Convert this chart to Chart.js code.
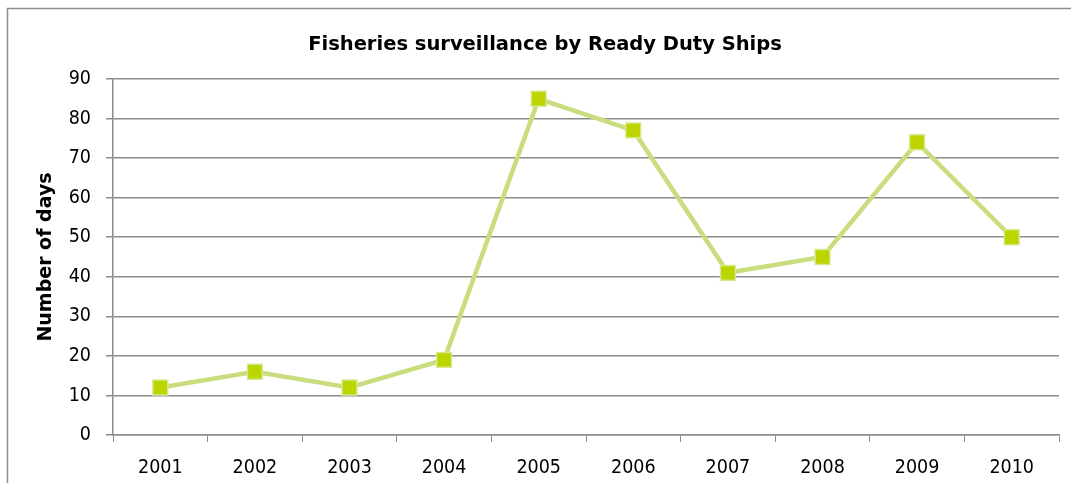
<!DOCTYPE html>
<html>
<head>
<meta charset="utf-8">
<script src="https://cdn.jsdelivr.net/npm/chart.js@4.4.0/dist/chart.umd.min.js"></script>
<style>
html,body{margin:0;padding:0;background:#fff;overflow:hidden;}
#wrap{position:absolute;left:0;top:0;width:1090px;height:495px;}
</style>
</head>
<body>
<div id="wrap"><canvas id="c" width="1090" height="495"></canvas></div>
<script>
const categories = ['2001','2002','2003','2004','2005','2006','2007','2008','2009','2010'];
const daysValues = [12, 16, 12, 19, 85, 77, 41, 45, 74, 50];
const yTicks = [0,10,20,30,40,50,60,70,80,90];
const chartTitle = 'Fisheries surveillance by Ready Duty Ships';
const yTitle = 'Number of days';

const FONT = '"DejaVu Sans", Verdana, sans-serif';
const TICKFONT = '"DejaVu Sans Condensed", "DejaVu Sans", sans-serif';

const framePlugin = {
  id: 'frame',
  beforeDraw(chart) {
    const ctx = chart.ctx;
    ctx.save();
    ctx.fillStyle = '#fff';
    ctx.fillRect(0, 0, chart.width, chart.height);
    ctx.strokeStyle = '#8c8c8c';
    ctx.lineWidth = 1.5;
    ctx.strokeRect(7.5, 8.5, 1075, 480);
    ctx.restore();
  },
  afterLayout(chart) {
    // centre the title over the whole (cropped) chart frame
    const t = chart.titleBlock;
    if (t) { t.left = 31; t.width = t.right - t.left; }
  }
};

new Chart(document.getElementById('c'), {
  type: 'line',
  data: {
    labels: categories,
    datasets: [{
      label: yTitle,
      data: daysValues,
      borderColor: '#c8de7e',
      borderWidth: 4.5,
      pointStyle: 'rect',
      pointRadius: 10.5,
      pointHoverRadius: 10.5,
      pointBackgroundColor: '#bcd400',
      pointBorderColor: '#d6e98e',
      pointBorderWidth: 1.5,
      tension: 0
    }]
  },
  options: {
    responsive: false,
    animation: false,
    events: [],
    layout: { padding: { left: 0, right: 31, top: 0, bottom: 15 } },
    plugins: {
      legend: { display: false },
      tooltip: { enabled: false },
      title: {
        display: true,
        text: chartTitle,
        color: '#000',
        font: { family: FONT, size: 19.5, weight: 'bold' },
        padding: { top: 33, bottom: 22.6 }
      }
    },
    scales: {
      x: {
        offset: true,
        grid: {
          offset: true,
          drawOnChartArea: false,
          drawTicks: true,
          tickLength: 7,
          color: '#8c8c8c',
          lineWidth: 1
        },
        border: { color: '#8c8c8c', width: 1.5 },
        ticks: {
          color: '#000',
          font: { family: TICKFONT, size: 19.5 },
          padding: 14,
          maxRotation: 0,
          autoSkip: false
        },
        afterFit(scale) { scale.height = 45; }
      },
      y: {
        min: 0,
        max: 90,
        afterBuildTicks(scale) { scale.ticks = yTicks.map(v => ({ value: v })); },
        grid: {
          color: '#8c8c8c',
          lineWidth: 1.5,
          tickLength: 7
        },
        border: { color: '#8c8c8c', width: 1.5 },
        ticks: {
          color: '#000',
          font: { family: TICKFONT, size: 19.5 },
          padding: 15
        },
        title: {
          display: true,
          text: yTitle,
          color: '#000',
          font: { family: FONT, size: 19, weight: 'bold' },
          padding: { top: 35, bottom: 0 }
        },
        afterFit(scale) { scale.width = 113; }
      }
    }
  },
  plugins: [framePlugin]
});
</script>
</body>
</html>
